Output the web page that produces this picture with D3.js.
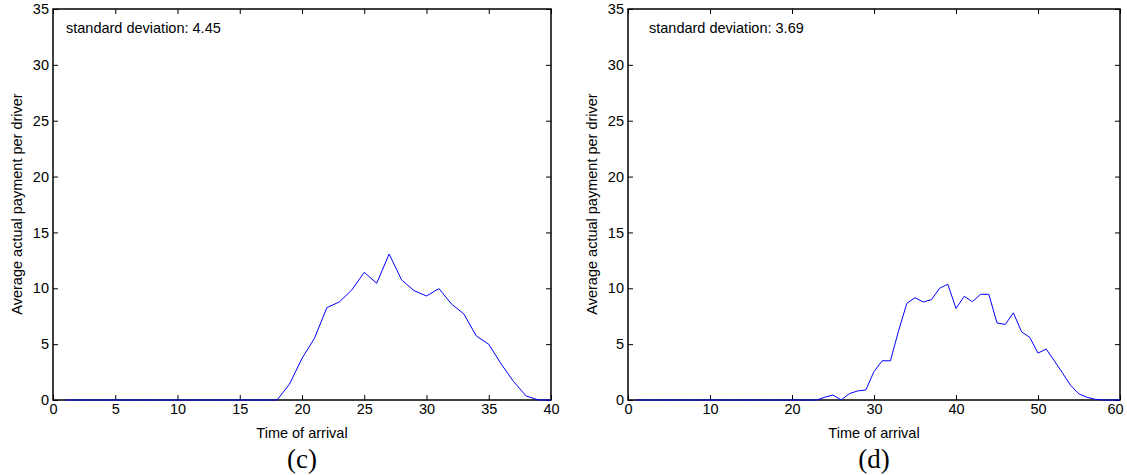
<!DOCTYPE html>
<html>
<head>
	<meta charset="utf-8">
	<title>Average actual payment per driver</title>
	<script src="https://cdn.jsdelivr.net/npm/d3@7"></script>
	<style>
		body { margin: 0; background: #fff; }
		text { font-family: "Liberation Sans", Arial, sans-serif; }
		.cap { font-family: "Liberation Serif", "Times New Roman", serif; }
	</style>
</head>
<body>
<div id="chart"></div>
<script>
	// panel (c)
	var timeC = [1,2,3,4,5,6,7,8,9,10,11,12,13,14,15,16,17,18,19,20,
		21,22,23,24,25,26,27,28,29,30,31,32,33,34,35,36,37,38,39,40];
	var payC = [0,0,0,0,0,0,0,0,0,0,0,0,0,0,0,0,0,0,1.43,3.73,
		5.52,8.27,8.78,9.85,11.43,10.45,13.07,10.75,9.79,9.31,9.97,8.6,7.7,5.73,4.99,3.22,1.64,0.36,0,0];
	var xTicksC = [0,5,10,15,20,25,30,35,40];

	// panel (d)
	var timeD = [1,2,3,4,5,6,7,8,9,10,11,12,13,14,15,16,17,18,19,20,
		21,22,23,24,25,26,27,28,29,30,31,32,33,34,35,36,37,38,39,40,
		41,42,43,44,45,46,47,48,49,50,51,52,53,54,55,56,57,58,59,60];
	var payD = [0,0,0,0,0,0,0,0,0,0,0,0,0,0,0,0,0,0,0,0,
		0,0,0,0.25,0.45,0,0.57,0.81,0.9,2.55,3.51,3.51,6.2,8.65,9.16,8.77,8.98,10.0,10.36,8.2,
		9.28,8.8,9.46,9.46,6.9,6.76,7.8,6.1,5.6,4.2,4.56,3.5,2.4,1.29,0.54,0.24,0.06,0,0,0];
	var xTicksD = [0,10,20,30,40,50,60];

	var yTicks = [0,5,10,15,20,25,30,35];

	var width = 1127, height = 475;
	var fs = 14.5;

	var svg = d3.select("#chart").append("svg")
		.attr("width", width)
		.attr("height", height);

	svg.append("rect").attr("width", width).attr("height", height).attr("fill", "#fff");

	function drawPanel(p) {
		var x = d3.scaleLinear().domain(p.xDomain).range([p.left, p.right]);
		var y = d3.scaleLinear().domain([0, 35]).range([400, 9]);
		var g = svg.append("g");

		// inward ticks on all four sides, labels only bottom/left
		var xb = g.append("g").attr("transform", "translate(0,400)")
			.call(d3.axisBottom(x).tickValues(p.xTicks).tickSize(-5).tickSizeOuter(0).tickPadding(4));
		g.append("g").attr("transform", "translate(0,9)")
			.call(d3.axisTop(x).tickValues(p.xTicks).tickSize(-5).tickSizeOuter(0).tickFormat(""));
		g.append("g").attr("transform", "translate(" + p.left + ",0)")
			.call(d3.axisLeft(y).tickValues(yTicks).tickSize(-5).tickSizeOuter(0).tickPadding(4));
		g.append("g").attr("transform", "translate(" + p.right + ",0)")
			.call(d3.axisRight(y).tickValues(yTicks).tickSize(-5).tickSizeOuter(0).tickFormat(""));

		g.selectAll(".domain").remove();
		g.selectAll(".tick line").attr("stroke", "#000").attr("stroke-width", 1);
		g.selectAll(".tick text").attr("font-size", fs).attr("fill", "#000")
			.attr("font-family", "'Liberation Sans', Arial, sans-serif");
		// keep the last x label inside the page
		xb.selectAll(".tick text").filter(function(d) { return d === p.xDomain[1]; })
			.attr("dx", p.lastDx);

		g.append("rect")
			.attr("x", p.left).attr("y", 9)
			.attr("width", p.right - p.left).attr("height", 391)
			.attr("fill", "none").attr("stroke", "#000").attr("stroke-width", 1.5);

		var line = d3.line().x(function(d, i) { return x(p.time[i]); }).y(function(d) { return y(d); });
		g.append("path").datum(p.values)
			.attr("d", line)
			.attr("fill", "none")
			.attr("stroke", "#0000ff")
			.attr("stroke-width", 1);

		g.append("text").attr("x", p.left + p.noteDx).attr("y", 33)
			.attr("font-size", fs).text(p.note);

		var cx = (p.left + p.right) / 2;
		g.append("text").attr("x", cx).attr("y", 438)
			.attr("text-anchor", "middle").attr("font-size", fs).text("Time of arrival");
		g.append("text")
			.attr("transform", "translate(" + (p.left - 31) + ",204) rotate(-90)")
			.attr("text-anchor", "middle").attr("font-size", fs).text("Average actual payment per driver");
		g.append("text").attr("class", "cap").attr("x", cx).attr("y", 468)
			.attr("text-anchor", "middle").attr("font-size", 27).text(p.caption);
	}

	drawPanel({ left: 53, right: 551, xDomain: [0, 40], xTicks: xTicksC, noteDx: 13, lastDx: 0,
		time: timeC, values: payC, note: "standard deviation: 4.45", caption: "(c)" });
	drawPanel({ left: 628, right: 1120, xDomain: [0, 60], xTicks: xTicksD, noteDx: 21, lastDx: -5,
		time: timeD, values: payD, note: "standard deviation: 3.69", caption: "(d)" });
</script>
</body>
</html>
